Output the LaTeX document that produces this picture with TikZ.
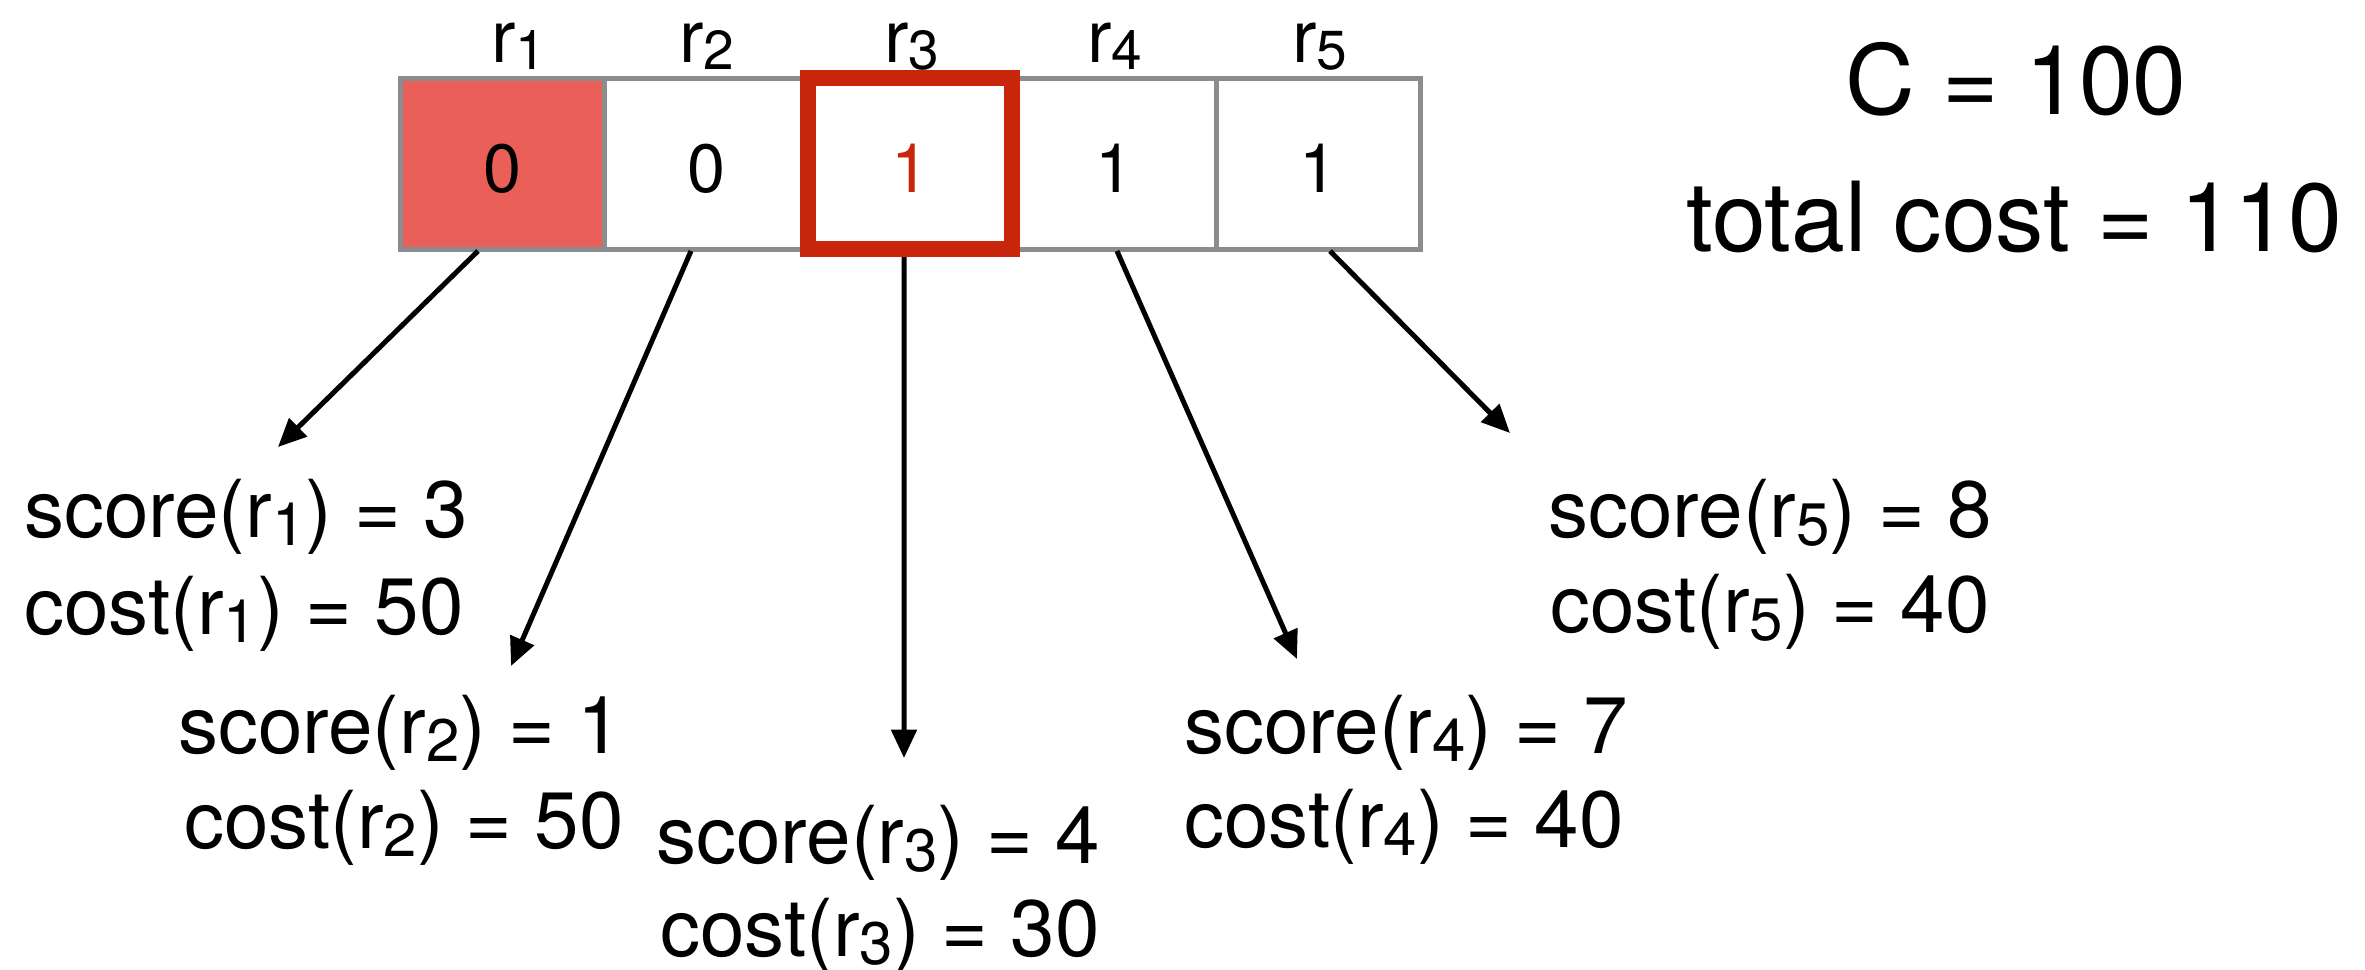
\documentclass[tikz,border=0pt]{standalone}
\usepackage{fontspec}
\setmainfont{TeX Gyre Heros}
\usepackage{graphicx}
\usetikzlibrary{arrows.meta}
\definecolor{boxgrey}{RGB}{138,140,144}
\definecolor{cellred}{RGB}{235,95,89}
\definecolor{framered}{RGB}{200,38,10}
\newcommand{\rsub}[1]{\raisebox{-0.1em}{\scalebox{0.75}{#1}}}
\begin{document}
\begin{tikzpicture}[x=0.3pt,y=-0.3pt,
  cell/.style={draw=boxgrey, line width=1.5pt, minimum width=61.2pt, minimum height=51.3pt,
    inner sep=0pt, outer sep=0pt, text height=17.6pt, text depth=0pt, font=\fontsize{20.5}{24}\selectfont},
  rlab/.style={anchor=base, inner sep=0pt, font=\fontsize{22}{26}\selectfont},
  info/.style={anchor=base, inner sep=0pt, font=\fontsize{24}{28}\selectfont},
  big/.style={anchor=base, inner sep=0pt, font=\fontsize{29}{34}\selectfont},
  arr/.style={line width=1.5pt, -{Triangle[length=8.5pt,width=7.5pt]}}]
\useasboundingbox (0,0) rectangle (2365,969);

% cells
\node[cell, fill=cellred] (b1) at (502,163.5) {0};
\node[cell] (b2) at (706,163.5) {0};
\node[cell, text=framered] (b3) at (910,163.5) {1};
\node[cell] (b4) at (1114,163.5) {1};
\node[cell] (b5) at (1318,163.5) {1};
\draw[framered, line width=4.8pt] (b3.south west) rectangle (b3.north east);

% cell labels
\node[rlab] (l1) at (519,62) {r\rsub{1}};
\node[rlab] (l2) at (707,62) {r\rsub{2}};
\node[rlab] (l3) at (912,62) {r\rsub{3}};
\node[rlab] (l4) at (1115,62) {r\rsub{4}};
\node[rlab] (l5) at (1320,62) {r\rsub{5}};

% budget
\node[big] (cap) at (2016,114) {C = 100};
\node[big] (tot) at (2014,251) {total cost = 110};

% score / cost texts
\node[info] (s1) at (246,537) {score(r\rsub{1}) = 3};
\node[info] (c1) at (244,634) {cost(r\rsub{1}) = 50};
\node[info] (s2) at (400,753) {score(r\rsub{2}) = 1};
\node[info] (c2) at (404,848) {cost(r\rsub{2}) = 50};
\node[info] (s3) at (878,863) {score(r\rsub{3}) = 4};
\node[info] (c3) at (880,956) {cost(r\rsub{3}) = 30};
\node[info] (s4) at (1406,753) {score(r\rsub{4}) = 7};
\node[info] (c4) at (1404,847) {cost(r\rsub{4}) = 40};
\node[info] (s5) at (1770,537) {score(r\rsub{5}) = 8};
\node[info] (c5) at (1770,632) {cost(r\rsub{5}) = 40};

% arrow tips
\coordinate (t1) at (278,447);
\coordinate (t2) at (511,666);
\coordinate (t3) at (904,758);
\coordinate (t4) at (1297,659);
\coordinate (t5) at (1510,433);

\draw[arr] ([xshift=-7.2pt,yshift=-0.6pt]b1.south) -- (t1);
\draw[arr] ([xshift=-4.5pt,yshift=-0.6pt]b2.south) -- (t2);
\draw[arr] ([xshift=-1.8pt,yshift=-2.4pt]b3.south) -- (t3);
\draw[arr] ([xshift=0.9pt,yshift=-0.6pt]b4.south) -- (t4);
\draw[arr] ([xshift=3.6pt,yshift=-0.6pt]b5.south) -- (t5);
\end{tikzpicture}
\end{document}
